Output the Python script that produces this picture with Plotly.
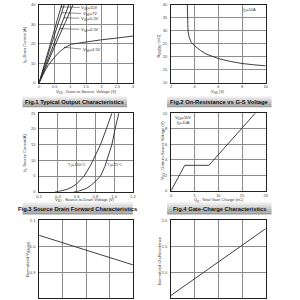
import plotly.graph_objects as go

# ---------------- data ----------------
# Fig.1 Typical Output Characteristics
vds_10 = [0, 0.36, 0.72]
id_10 = [0, 20, 40]
vds_7 = [0, 0.40, 0.80]
id_7 = [0, 20, 40]
vds_55 = [0, 0.47, 0.95]
id_55 = [0, 20, 40]
vds_45 = [0, 0.3, 0.6, 0.85, 1.08]
id_45 = [0, 11.5, 22.5, 31.5, 40]
vds_35 = [0, 0.1, 0.2, 0.3, 0.41, 0.55, 0.7, 0.83, 1.03, 1.5, 1.96, 2.5, 3.0]
id_35 = [0, 3.5, 6.5, 9.2, 11.6, 14.2, 16.5, 18.1, 19.8, 21.0, 22.0, 23.0, 24.0]
fig1_labels = ["V<sub>GS</sub>=10V", "V<sub>GS</sub>=7V", "V<sub>GS</sub>=5.5V",
               "V<sub>GS</sub>=4.5V", "V<sub>GS</sub>=3.5V"]
fig1_label_xy = [(1.62, 38.6), (1.62, 35.5), (1.62, 33.0), (1.62, 27.3), (1.68, 16.7)]
fig1_arrow_xy = [(0.72, 39.0), (0.76, 36.0), (0.82, 33.4), (0.70, 27.8), (0.82, 18.2)]

# Fig.2 On-Resistance vs G-S Voltage
vgs2 = [3.38, 3.40, 3.44, 3.52, 3.7, 4.0, 4.5, 5.0, 6.0, 7.0, 8.0, 9.0, 10.0]
rds2 = [40, 35, 30, 27.8, 25.6, 24.2, 22.4, 21.0, 19.3, 18.2, 17.4, 16.9, 16.5]

# Fig.3 Source Drain Forward Characteristics
vsd_150 = [0.37, 0.42, 0.5, 0.55, 0.6, 0.68, 0.75, 0.8, 0.855, 0.917, 0.976]
is_150 = [0, 0.2, 0.8, 1.5, 2.5, 5.0, 8.5, 11.5, 15, 20, 25]
vsd_25 = [0.57, 0.62, 0.7, 0.75, 0.8, 0.855, 0.9, 0.94, 0.976, 1.01, 1.05]
is_25 = [0, 0.2, 1.0, 2.0, 3.3, 5.0, 8.0, 11.5, 15, 20, 25]

# Fig.4 Gate-Charge Characteristics
qg4 = [0, 2.9, 8.0, 17.8]
vgs4 = [0, 3.28, 3.28, 10]

# Fig.5 Normalized V(BR)DSS vs temperature
tj5 = [-50, 150]
bv5 = [1.042, 0.928]

# Fig.6 Normalized On-Resistance vs temperature
tj6 = [-50, 150]
ron6 = [0.55, 1.84]

titles = ["Fig.1 Typical Output Characteristics", "Fig.2 On-Resistance vs G-S Voltage",
          "Fig.3 Source Drain Forward Characteristics", "Fig.4 Gate-Charge Characteristics"]

# ---------------- layout helpers ----------------
FONT = "Liberation Sans, Arial, sans-serif"
def fx(p):
    return p / 300.0
def fy(p):
    return 1 - p / 300.0

LEFT = (37, 133)
RIGHT = (172, 269)
panels = {
    1: (LEFT, (2, 81)),
    2: (RIGHT, (2, 81)),
    3: (LEFT, (112, 192)),
    4: (RIGHT, (112, 191)),
    5: (LEFT, (221, 300)),
    6: (RIGHT, (221, 300)),
}

fig = go.Figure()
LINE = dict(color="#2a2a2a", width=0.9)

def add(n, x, y):
    suf = "" if n == 1 else str(n)
    fig.add_trace(go.Scatter(x=x, y=y, mode="lines", line=LINE,
                             xaxis="x" + suf, yaxis="y" + suf,
                             hoverinfo="skip", cliponaxis=True))

add(1, vds_10, id_10)
add(1, vds_7, id_7)
add(1, vds_55, id_55)
add(1, vds_45, id_45)
add(1, vds_35, id_35)
add(2, vgs2, rds2)
add(3, vsd_150, is_150)
add(3, vsd_25, is_25)
add(4, qg4, vgs4)
add(5, tj5, bv5)
add(6, tj6, ron6)

axcfg = {
    1: dict(xr=[0, 3], xd=0.5, yr=[0, 40], yd=10, xf="", yf="", yt=None, xs=True),
    2: dict(xr=[2, 10], xd=2, yr=[10, 40], yd=5, xf="", yf="", yt=None, xs=True),
    3: dict(xr=[0.2, 1.2], xd=0.2, yr=[0, 25], yd=5, xf=".1f", yf="", yt=None, xs=True),
    4: dict(xr=[0, 20], xd=5, yr=[0, 10], yd=2, xf="", yf="", yt=None, xs=True),
    5: dict(xr=[-50, 150], xd=50, yr=[0.8, 1.1], yd=0.1, xf="", yf=".1f",
            yt=[0.9, 1.0, 1.1], xs=False),
    6: dict(xr=[-50, 150], xd=50, yr=[0.5, 2.0], yd=0.5, xf="", yf=".1f",
            yt=[1.0, 1.5, 2.0], xs=False),
}

layout = dict(width=300, height=300, margin=dict(l=0, r=0, t=0, b=0),
              paper_bgcolor="white", plot_bgcolor="white", showlegend=False,
              font=dict(family=FONT, size=4, color="#333"))
for n, ((x0, x1), (y0, y1)) in panels.items():
    suf = "" if n == 1 else str(n)
    c = axcfg[n]
    common = dict(showline=True, linecolor="#222", linewidth=0.8, mirror=True,
                  showgrid=True, gridcolor="#8c8c8c", gridwidth=0.6,
                  zeroline=False, ticks="", tickfont=dict(size=4, color="#444", family=FONT),
                  fixedrange=True)
    layout["xaxis" + suf] = dict(domain=[fx(x0), fx(x1)], range=c["xr"], dtick=c["xd"],
                                 tick0=c["xr"][0], tickformat=c["xf"],
                                 showticklabels=c["xs"],
                                 anchor="y" + suf, ticklabelstandoff=0, **common)
    ya = dict(domain=[fy(y1), fy(y0)], range=c["yr"], dtick=c["yd"],
              tick0=c["yr"][0], tickformat=c["yf"],
              anchor="x" + suf, ticklabelstandoff=2, **common)
    if c["yt"] is not None:
        ya["tickvals"] = c["yt"]
    layout["yaxis" + suf] = ya

annotations = []
def ann(text, x, y, angle=0, size=4, bold=False, xanchor="center", color="#333"):
    t = "<b>%s</b>" % text if bold else text
    annotations.append(dict(text=t, x=fx(x), y=fy(y), xref="paper", yref="paper",
                            showarrow=False, textangle=angle, xanchor=xanchor,
                            yanchor="middle", font=dict(size=size, family=FONT, color=color)))

# axis titles
ann("I<sub>D</sub>, Drain Current (A)", 23, 42, angle=-90)
ann("V<sub>DS</sub> , Drain-to-Source  Voltage (V)", 85, 90.5)
ann("R<sub>DS(ON)</sub> (mΩ)", 160, 43, angle=-90)
ann("V<sub>GS</sub> (V)", 220, 90.5)
ann("I<sub>S</sub>, Source Current(A)", 23, 152, angle=-90)
ann("V<sub>SD</sub> , Source-to-Drain Voltage (V)", 84, 200.5)
ann("V<sub>GS</sub> , Gate-to-Source Voltage (V)", 163, 150, angle=-90)
ann("Q<sub>g</sub> , Total Gate Charge (nC)", 221, 200.5)
ann("Normalized V<sub>(BR)DSS</sub>", 25, 260, angle=-90)
ann("Normalized On-Resistance", 160, 262, angle=-90)

# in-plot notes
ann("I<sub>D</sub>=10A", 252, 7)
ann("V<sub>DS</sub>=50V<br>I<sub>D</sub>=10A", 174, 119, xanchor="left")
annotations.append(dict(text="T<sub>J</sub>=150°C", x=0.60, y=8.4, xref="x3", yref="y3",
                        showarrow=False, font=dict(size=4, family=FONT, color="#333")))
annotations.append(dict(text="T<sub>J</sub>=25°C", x=1.0, y=8.4, xref="x3", yref="y3",
                        showarrow=False, font=dict(size=4, family=FONT, color="#333")))

# Fig.1 labels with leader arrows
for lab, (lx, ly), (axx, ayy) in zip(fig1_labels, fig1_label_xy, fig1_arrow_xy):
    annotations.append(dict(text=lab, x=axx, y=ayy, ax=lx, ay=ly, xref="x", yref="y",
                            axref="x", ayref="y", showarrow=True, arrowhead=6,
                            arrowsize=0.6, arrowwidth=0.5, arrowcolor="#222",
                            font=dict(size=4, family=FONT, color="#333")))

# banners
shapes = []
banners = [(20, 127, 95, 106, titles[0]), (168, 275, 95, 106, titles[1]),
           (20, 133, 203, 215, titles[2]), (168, 275, 203, 215, titles[3])]
grad = ["#ececec", "#dcdcdc", "#cbcbcb", "#b9b9b9", "#a8a8a8", "#9a9a9a"]
for (x0, x1, y0, y1, t) in banners:
    h = (y1 - y0) / len(grad)
    for i, col in enumerate(grad):
        shapes.append(dict(type="rect", xref="paper", yref="paper",
                           x0=fx(x0), x1=fx(x1), y0=fy(y0 + (i + 1) * h), y1=fy(y0 + i * h),
                           line=dict(width=0), fillcolor=col, layer="below"))
    ann(t, (x0 + x1) / 2, (y0 + y1) / 2, size=5.8, bold=True, color="#111")

layout["annotations"] = annotations
layout["shapes"] = shapes
fig.update_layout(**layout)
fig.write_html("out.html")
